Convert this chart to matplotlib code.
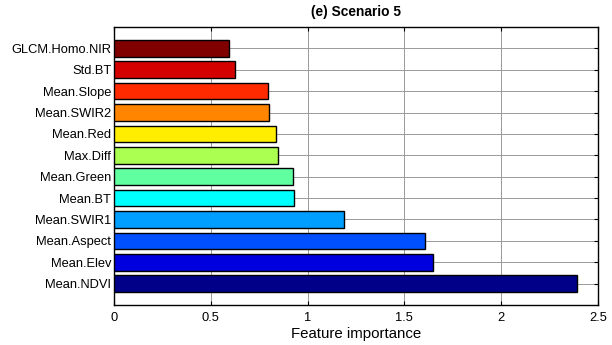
import numpy as np
import matplotlib.pyplot as plt

plt.rcParams['font.family'] = ['Liberation Sans', 'DejaVu Sans']

# feature names, top to bottom
features = ['GLCM.Homo.NIR', 'Std.BT', 'Mean.Slope', 'Mean.SWIR2', 'Mean.Red',
            'Max.Diff', 'Mean.Green', 'Mean.BT', 'Mean.SWIR1', 'Mean.Aspect',
            'Mean.Elev', 'Mean.NDVI']
importance = [0.596, 0.623, 0.797, 0.802, 0.837, 0.845, 0.923, 0.930,
              1.190, 1.608, 1.650, 2.392]
x_ticks = [0, 0.5, 1, 1.5, 2, 2.5]
x_ticklabels = ['0', '0.5', '1', '1.5', '2', '2.5']

# jet-like palette, one colour per bar
bar_colors = ['#800000', '#d40000', '#ff2a00', '#ff8400', '#ffee00', '#aaff50',
              '#60ff9f', '#00ffff', '#009fff', '#0050ff', '#0000df', '#000088']

fig = plt.figure(figsize=(6.12, 3.45), dpi=100)
ax = fig.add_axes([114 / 612, 1 - 305 / 345, (598 - 114) / 612, (305 - 27) / 345])

n = len(features)
ypos = np.arange(n, 0, -1)

ax.barh(ypos, importance, height=0.78, color=bar_colors, edgecolor='black',
        linewidth=1.0, zorder=3)

ax.set_xlim(0, 2.5)
ax.set_ylim(0, n + 1)
ax.set_xticks(x_ticks)
ax.set_xticklabels(x_ticklabels)
ax.set_yticks(ypos)
ax.set_yticklabels(features)

ax.grid(True, color='0.6', linewidth=0.7, zorder=0)
ax.set_axisbelow(True)

ax.tick_params(axis='x', direction='in', top=True, length=3, width=0.8,
               labelsize=9.3, pad=5)
ax.tick_params(axis='y', direction='in', left=False, right=True, length=3,
               width=0.8, labelsize=9.3, pad=2)
for s in ax.spines.values():
    s.set_linewidth(1.0)

ax.set_xlabel('Feature importance', fontsize=10.8, labelpad=2)
ax.set_title('(e) Scenario 5', fontsize=9.9, fontweight='bold', pad=8)

fig.savefig('out.png', dpi=100)
